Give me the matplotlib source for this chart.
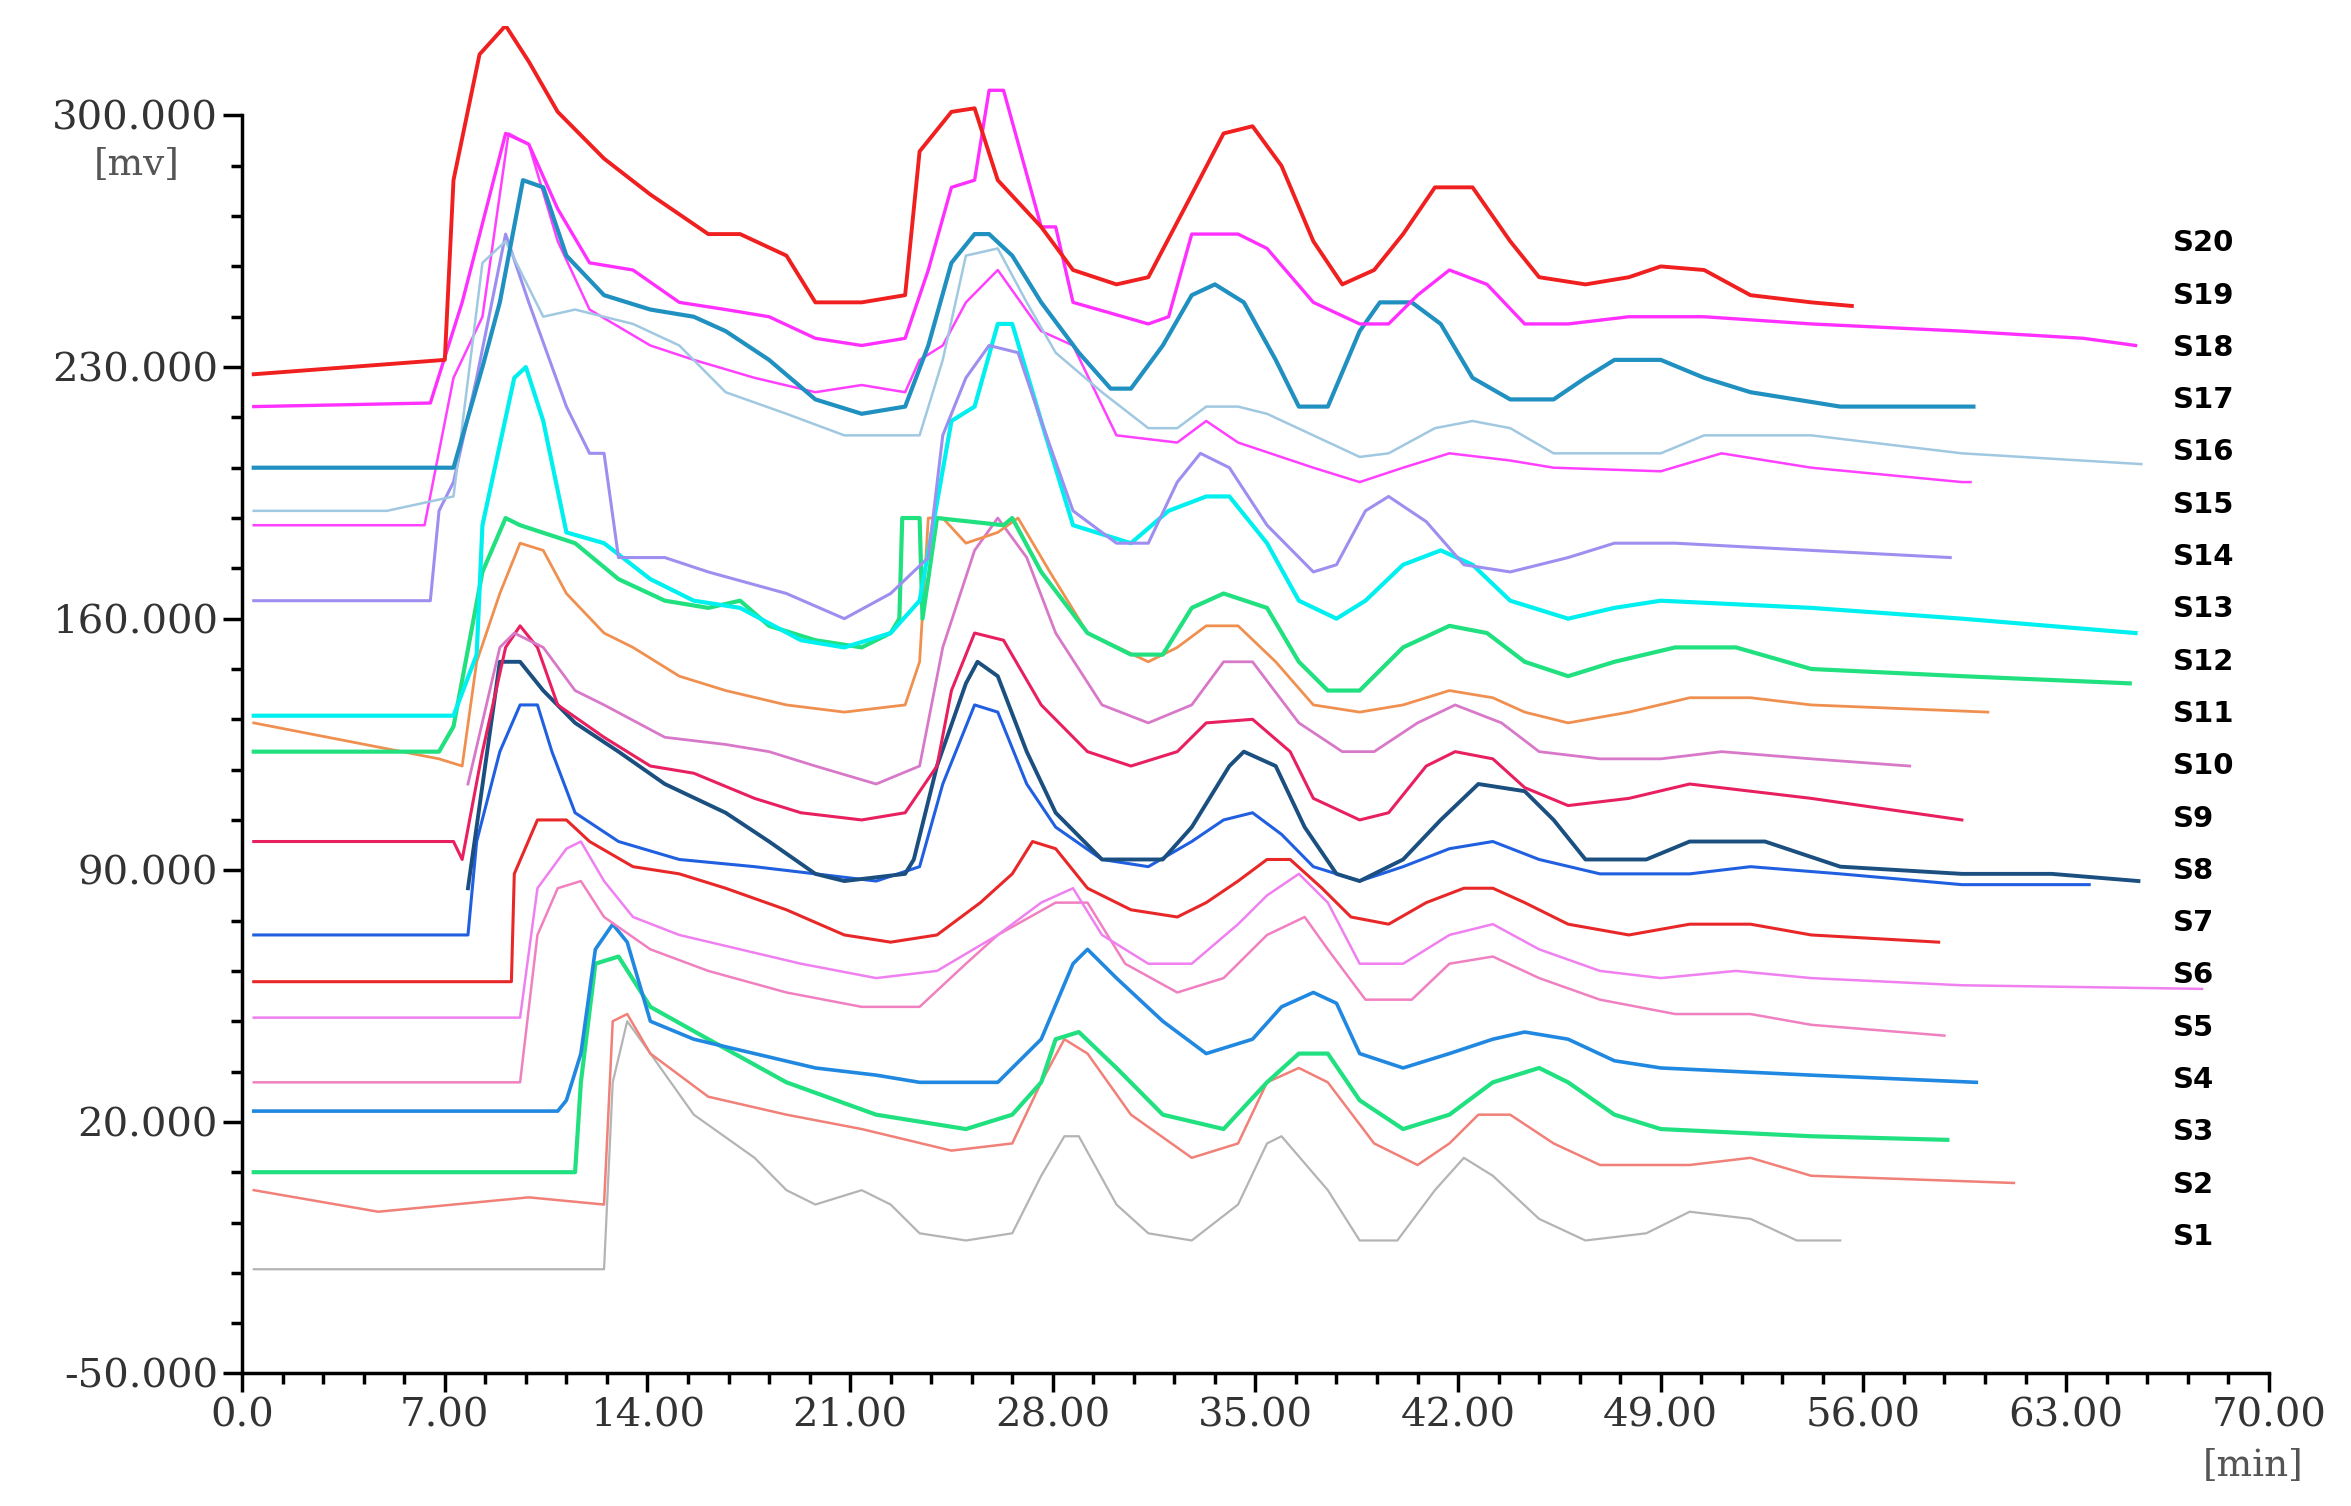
import matplotlib.pyplot as plt
from matplotlib.ticker import MultipleLocator, FixedLocator, FuncFormatter

# retention time (min) / signal (mV)
s20_t = [0.4, 7.0, 7.3, 8.2, 9.1, 9.9, 10.9, 12.5, 14.1, 16.1, 17.2, 18.8, 19.8, 21.4, 22.9, 23.4, 24.5, 25.3, 26.1, 27.6, 28.7, 30.2, 31.3, 32.8, 33.9, 34.9, 35.9, 37.0, 38.0, 39.1, 40.1, 41.2, 42.5, 43.8, 44.8, 46.4, 47.9, 49.0, 50.5, 52.1, 54.2, 55.6]
s20_v = [228, 232, 282, 317, 325, 315, 301, 288, 278, 267, 267, 261, 248, 248, 250, 290, 301, 302, 282, 269, 257, 253, 255, 278, 295, 297, 286, 265, 253, 257, 267, 280, 280, 265, 255, 253, 255, 258, 257, 250, 248, 247]
s19_t = [0.4, 6.5, 7.6, 9.1, 9.9, 10.9, 12.0, 13.5, 15.1, 16.7, 18.2, 19.8, 21.4, 22.9, 23.7, 24.5, 25.3, 25.8, 26.3, 27.6, 28.1, 28.7, 31.3, 32.0, 32.8, 34.4, 35.4, 37.0, 38.6, 39.6, 40.6, 41.7, 43.0, 44.3, 45.8, 47.9, 50.5, 54.2, 59.4, 63.6, 65.4]
s19_v = [219, 220, 248, 295, 292, 274, 259, 257, 248, 246, 244, 238, 236, 238, 257, 280, 282, 307, 307, 269, 269, 248, 242, 244, 267, 267, 263, 248, 242, 242, 250, 257, 253, 242, 242, 244, 244, 242, 240, 238, 236]
s18_t = [0.4, 7.3, 8.3, 8.9, 9.7, 10.4, 11.2, 12.5, 14.1, 15.6, 16.7, 18.2, 19.8, 21.4, 22.9, 23.7, 24.5, 25.3, 25.8, 26.6, 27.6, 28.9, 30.0, 30.7, 31.8, 32.8, 33.6, 34.6, 35.7, 36.5, 37.5, 38.6, 39.3, 40.4, 41.4, 42.5, 43.8, 45.3, 46.4, 47.4, 49.0, 50.5, 52.1, 55.2, 59.8]
s18_v = [202, 202, 230, 248, 282, 280, 261, 250, 246, 244, 240, 232, 221, 217, 219, 236, 259, 267, 267, 261, 248, 234, 224, 224, 236, 250, 253, 248, 232, 219, 219, 240, 248, 248, 242, 227, 221, 221, 227, 232, 232, 227, 223, 219, 219]
s17_t = [0.4, 5.0, 7.3, 8.3, 9.1, 10.4, 11.5, 13.5, 15.1, 16.7, 18.8, 20.8, 23.4, 24.2, 25.0, 26.1, 27.1, 28.1, 29.7, 31.3, 32.3, 33.3, 34.4, 35.4, 37.0, 38.6, 39.6, 41.2, 42.5, 43.8, 45.3, 49.0, 50.5, 54.2, 59.4, 65.6]
s17_v = [190, 190, 194, 259, 265, 244, 246, 242, 236, 223, 217, 211, 211, 232, 261, 263, 248, 234, 223, 213, 213, 219, 219, 217, 211, 205, 206, 213, 215, 213, 206, 206, 211, 211, 206, 203]
s16_t = [0.4, 6.3, 7.3, 8.3, 8.9, 9.2, 9.9, 10.9, 12.0, 14.1, 15.6, 17.7, 19.8, 21.4, 22.9, 23.4, 24.2, 25.0, 26.1, 27.6, 28.7, 30.2, 32.3, 33.3, 34.4, 37.0, 38.6, 40.1, 41.7, 43.8, 45.3, 49.0, 51.1, 54.2, 59.4, 59.7]
s16_v = [186, 186, 227, 244, 278, 295, 292, 265, 246, 236, 232, 227, 223, 225, 223, 232, 236, 248, 257, 240, 236, 211, 209, 215, 209, 202, 198, 202, 206, 204, 202, 201, 206, 202, 198, 198]
s15_t = [0.4, 6.5, 6.8, 7.3, 8.1, 8.9, 9.1, 9.9, 11.2, 12.0, 12.5, 13.0, 14.6, 16.1, 18.8, 20.8, 22.4, 23.7, 24.2, 25.0, 25.8, 26.8, 27.6, 28.7, 30.2, 31.3, 32.3, 33.1, 34.1, 35.4, 37.0, 37.8, 38.8, 39.6, 40.9, 42.2, 43.8, 45.8, 47.4, 49.5, 54.2, 59.0]
s15_v = [165, 165, 190, 198, 227, 259, 267, 248, 219, 206, 206, 177, 177, 173, 167, 160, 167, 177, 211, 227, 236, 234, 215, 190, 181, 181, 198, 206, 202, 186, 173, 175, 190, 194, 187, 175, 173, 177, 181, 181, 179, 177]
s14_t = [0.4, 7.3, 8.1, 8.3, 9.4, 9.8, 10.4, 11.2, 12.5, 14.1, 15.6, 17.2, 19.3, 20.8, 22.4, 23.4, 24.5, 25.3, 26.1, 26.6, 27.6, 28.7, 30.7, 32.0, 33.3, 34.1, 35.4, 36.5, 37.8, 38.8, 40.1, 41.4, 42.5, 43.8, 45.8, 47.4, 49.0, 54.2, 59.4, 65.4]
s14_v = [133, 133, 150, 186, 227, 230, 215, 184, 181, 171, 165, 163, 154, 152, 156, 165, 215, 219, 242, 242, 215, 186, 181, 190, 194, 194, 181, 165, 160, 165, 175, 179, 175, 165, 160, 163, 165, 163, 160, 156]
s13_t = [0.4, 6.8, 7.3, 8.3, 9.1, 9.6, 11.5, 13.0, 14.6, 16.1, 17.2, 18.2, 19.8, 21.4, 22.4, 22.7, 22.8, 23.4, 23.5, 24.0, 26.3, 26.6, 27.6, 29.2, 30.7, 31.8, 32.8, 33.9, 35.4, 36.5, 37.5, 38.6, 40.1, 41.7, 43.0, 44.3, 45.8, 47.4, 49.5, 51.6, 54.2, 59.4, 65.2]
s13_v = [123, 123, 130, 173, 188, 186, 181, 171, 165, 163, 165, 158, 154, 152, 156, 160, 188, 188, 160, 188, 186, 188, 173, 156, 150, 150, 163, 167, 163, 148, 140, 140, 152, 158, 156, 148, 144, 148, 152, 152, 146, 144, 142]
s12_t = [0.4, 6.8, 7.6, 8.1, 8.9, 9.6, 10.4, 11.2, 12.5, 13.5, 15.1, 16.7, 18.8, 20.8, 22.9, 23.4, 23.7, 24.2, 25.0, 26.1, 26.8, 27.9, 29.2, 31.3, 32.3, 33.3, 34.4, 35.7, 37.0, 38.6, 40.1, 41.7, 43.2, 44.3, 45.8, 47.9, 50.0, 52.1, 54.2, 60.3]
s12_v = [131, 121, 119, 148, 167, 181, 179, 167, 156, 152, 144, 140, 136, 134, 136, 148, 188, 188, 181, 184, 188, 173, 156, 148, 152, 158, 158, 148, 136, 134, 136, 140, 138, 134, 131, 134, 138, 138, 136, 134]
s11_t = [7.8, 8.9, 9.4, 10.4, 11.5, 12.5, 14.6, 16.7, 18.2, 19.8, 21.9, 23.4, 24.2, 25.3, 26.1, 27.1, 28.1, 29.7, 31.3, 32.8, 33.9, 34.9, 36.5, 38.0, 39.1, 40.6, 41.9, 43.5, 44.8, 46.9, 49.0, 51.1, 54.2, 57.6]
s11_v = [114, 152, 156, 152, 140, 136, 127, 125, 123, 119, 114, 119, 152, 179, 188, 177, 156, 136, 131, 136, 148, 148, 131, 123, 123, 131, 136, 131, 123, 121, 121, 123, 121, 119]
s10_t = [0.4, 7.3, 7.6, 8.3, 9.1, 9.6, 10.2, 10.9, 12.5, 14.1, 15.6, 17.7, 19.3, 21.4, 22.9, 24.0, 24.5, 25.3, 26.3, 27.6, 29.2, 30.7, 32.3, 33.3, 34.9, 36.2, 37.0, 38.6, 39.6, 40.9, 41.9, 43.2, 44.3, 45.8, 47.9, 50.0, 52.1, 54.2, 59.4]
s10_v = [98, 98, 93, 123, 152, 158, 152, 136, 127, 119, 117, 110, 106, 104, 106, 119, 140, 156, 154, 136, 123, 119, 123, 131, 132, 123, 110, 104, 106, 119, 123, 121, 113, 108, 110, 114, 112, 110, 104]
s9_t = [7.8, 8.9, 9.6, 10.4, 11.5, 13.0, 14.6, 16.7, 18.2, 19.8, 20.8, 22.9, 23.2, 24.0, 25.0, 25.4, 26.1, 27.1, 28.1, 29.7, 31.8, 32.8, 34.1, 34.6, 35.7, 36.7, 37.8, 38.6, 40.1, 41.4, 42.7, 44.3, 45.3, 46.4, 48.5, 50.0, 52.6, 55.2, 59.4, 62.5, 65.5]
s9_v = [85, 148, 148, 140, 131, 123, 114, 106, 98, 89, 87, 89, 93, 119, 142, 148, 144, 123, 106, 93, 93, 102, 119, 123, 119, 102, 89, 87, 93, 104, 114, 112, 104, 93, 93, 98, 98, 91, 89, 89, 87]
s8_t = [0.4, 7.8, 8.1, 8.9, 9.6, 10.2, 10.7, 11.5, 13.0, 15.1, 17.7, 19.8, 21.9, 23.4, 24.2, 25.3, 26.1, 27.1, 28.1, 29.7, 31.3, 32.8, 33.9, 34.9, 35.9, 37.0, 38.6, 40.1, 41.7, 43.2, 44.8, 46.9, 50.0, 52.1, 55.2, 59.4, 63.8]
s8_v = [72, 72, 98, 123, 136, 136, 123, 106, 98, 93, 91, 89, 87, 91, 114, 136, 134, 114, 102, 93, 91, 98, 104, 106, 100, 91, 87, 91, 96, 98, 93, 89, 89, 91, 89, 86, 86]
s7_t = [0.4, 9.3, 9.4, 10.2, 11.2, 12.0, 13.5, 15.1, 16.7, 18.8, 20.8, 22.4, 24.0, 25.5, 26.6, 27.3, 28.1, 29.2, 30.7, 32.3, 33.3, 34.4, 35.4, 36.2, 37.3, 38.3, 39.6, 40.9, 42.2, 43.2, 44.3, 45.8, 47.9, 50.0, 52.1, 54.2, 58.6]
s7_v = [59, 59, 89, 104, 104, 98, 91, 89, 85, 79, 72, 70, 72, 81, 89, 98, 96, 85, 79, 77, 81, 87, 93, 93, 85, 77, 75, 81, 85, 85, 81, 75, 72, 75, 75, 72, 70]
s6_t = [0.4, 9.6, 10.2, 11.2, 11.7, 12.5, 13.5, 15.1, 17.2, 19.3, 21.9, 24.0, 26.1, 27.6, 28.7, 29.7, 31.3, 32.8, 34.4, 35.4, 36.5, 37.5, 38.6, 40.1, 41.7, 43.2, 44.8, 46.9, 49.0, 51.6, 54.2, 59.4, 67.7]
s6_v = [49, 49, 85, 96, 98, 87, 77, 72, 68, 64, 60, 62, 72, 81, 85, 72, 64, 64, 75, 83, 89, 81, 64, 64, 72, 75, 68, 62, 60, 62, 60, 58, 57]
s5_t = [0.4, 9.6, 10.2, 10.9, 11.7, 12.5, 14.1, 16.1, 18.8, 21.4, 23.4, 25.0, 26.1, 28.1, 29.2, 30.5, 32.3, 33.9, 35.4, 36.7, 37.5, 38.8, 40.4, 41.7, 43.2, 44.8, 46.9, 49.5, 52.1, 54.2, 58.8]
s5_v = [31, 31, 72, 85, 87, 77, 68, 62, 56, 52, 52, 64, 72, 81, 81, 64, 56, 60, 72, 77, 68, 54, 54, 64, 66, 60, 54, 50, 50, 47, 44]
s4_t = [0.4, 10.9, 11.2, 11.7, 12.2, 12.8, 13.3, 14.1, 15.6, 17.7, 19.8, 21.9, 23.4, 26.1, 27.6, 28.7, 29.2, 30.2, 31.8, 33.3, 34.9, 35.9, 37.0, 37.8, 38.6, 40.1, 41.7, 43.2, 44.3, 45.8, 47.4, 49.0, 54.2, 59.9]
s4_v = [23, 23, 26, 39, 68, 75, 70, 48, 43, 39, 35, 33, 31, 31, 43, 64, 68, 60, 48, 39, 43, 52, 56, 53, 39, 35, 39, 43, 45, 43, 37, 35, 33, 31]
s3_t = [0.4, 11.5, 11.7, 12.2, 13.0, 14.1, 16.1, 18.8, 21.9, 25.0, 26.6, 27.6, 28.1, 28.9, 30.2, 31.8, 33.9, 35.4, 36.5, 37.5, 38.6, 40.1, 41.7, 43.2, 44.8, 45.8, 47.4, 49.0, 54.2, 58.9]
s3_v = [6, 6, 31, 64, 66, 52, 43, 31, 22, 18, 22, 31, 43, 45, 35, 22, 18, 31, 39, 39, 26, 18, 22, 31, 35, 31, 22, 18, 16, 15]
s2_t = [0.4, 4.7, 7.3, 9.9, 12.5, 12.8, 13.3, 14.1, 16.1, 18.8, 21.4, 24.5, 26.6, 27.6, 28.4, 29.2, 30.7, 32.8, 34.4, 35.4, 36.5, 37.5, 39.1, 40.6, 41.7, 42.7, 43.8, 45.3, 46.9, 50.0, 52.1, 54.2, 61.2]
s2_v = [1, -5, -3, -1, -3, 48, 50, 39, 27, 22, 18, 12, 14, 31, 43, 39, 22, 10, 14, 31, 35, 31, 14, 8, 14, 22, 22, 14, 8, 8, 10, 5, 3]
s1_t = [0.4, 12.5, 12.8, 13.3, 14.1, 15.6, 17.7, 18.8, 19.8, 21.4, 22.4, 23.4, 25.0, 26.6, 27.6, 28.4, 28.9, 30.2, 31.3, 32.8, 34.4, 35.4, 35.9, 37.5, 38.6, 39.9, 41.2, 42.2, 43.2, 44.8, 46.4, 48.5, 50.0, 52.1, 53.7, 55.2]
s1_v = [-21, -21, 31, 48, 39, 22, 10, 1, -3, 1, -3, -11, -13, -11, 5, 16, 16, -3, -11, -13, -3, 14, 16, 1, -13, -13, 1, 10, 5, -7, -13, -11, -5, -7, -13, -13]

names = ['S%d' % i for i in range(1, 21)]
times = [s1_t, s2_t, s3_t, s4_t, s5_t, s6_t, s7_t, s8_t, s9_t, s10_t,
         s11_t, s12_t, s13_t, s14_t, s15_t, s16_t, s17_t, s18_t, s19_t, s20_t]
values = [s1_v, s2_v, s3_v, s4_v, s5_v, s6_v, s7_v, s8_v, s9_v, s10_v,
          s11_v, s12_v, s13_v, s14_v, s15_v, s16_v, s17_v, s18_v, s19_v, s20_v]
colors = ['#b4b4b4', '#f08078', '#20e080', '#2088e0', '#f080c0', '#f080f0',
          '#e82828', '#2060e0', '#1a4f80', '#e82060', '#d878c8', '#f09050',
          '#20e080', '#00f0f0', '#9d8ff0', '#ff40ff', '#a0c8e0', '#2090c0',
          '#ff30ff', '#f02020']
widths = [1.6, 1.8, 3.0, 2.6, 1.8, 1.8, 2.2, 2.2, 2.8, 2.2,
          2.0, 2.0, 3.0, 3.0, 2.2, 1.8, 1.8, 3.0, 2.4, 2.8]

fig = plt.figure(figsize=(23.51, 15.06), dpi=100)
ax = fig.add_axes([0.103, 0.088, 0.862, 0.895])

for t, v, c, w in zip(times, values, colors, widths):
    ax.plot(t, v, color=c, lw=w)

# label column on the right
for i, n in enumerate(names):
    ax.text(66.7, -12 + i * 14.55, n, fontsize=21, fontweight='bold',
            family='DejaVu Sans', va='center', ha='left')

ax.set_xlim(0, 70)
ax.set_ylim(-50, 325)
ax.spines['top'].set_visible(False)
ax.spines['right'].set_visible(False)
ax.spines['left'].set_bounds(-50, 300)
ax.spines['left'].set_linewidth(2.5)
ax.spines['bottom'].set_linewidth(2.5)
ax.set_xticks([0, 7, 14, 21, 28, 35, 42, 49, 56, 63, 70])
ax.xaxis.set_minor_locator(MultipleLocator(1.4))
ax.set_yticks([-50, 20, 90, 160, 230, 300])
ax.yaxis.set_minor_locator(FixedLocator(list(range(-50, 301, 14))))
ax.xaxis.set_major_formatter(FuncFormatter(lambda x, p: '0.0' if x == 0 else '%.2f' % x))
ax.yaxis.set_major_formatter(FuncFormatter(lambda y, p: '%.3f' % y))
ax.tick_params(which='major', length=14, width=2.5, labelsize=29)
ax.tick_params(which='minor', length=8, width=2.5)
for lab in ax.get_xticklabels() + ax.get_yticklabels():
    lab.set_family('DejaVu Serif')
    lab.set_color('#333333')
fig.text(0.040, 0.884, '[mv]', fontsize=27, family='DejaVu Serif', color='#555555')
fig.text(0.937, 0.020, '[min]', fontsize=27, family='DejaVu Serif', color='#555555')

fig.savefig('out.png')
